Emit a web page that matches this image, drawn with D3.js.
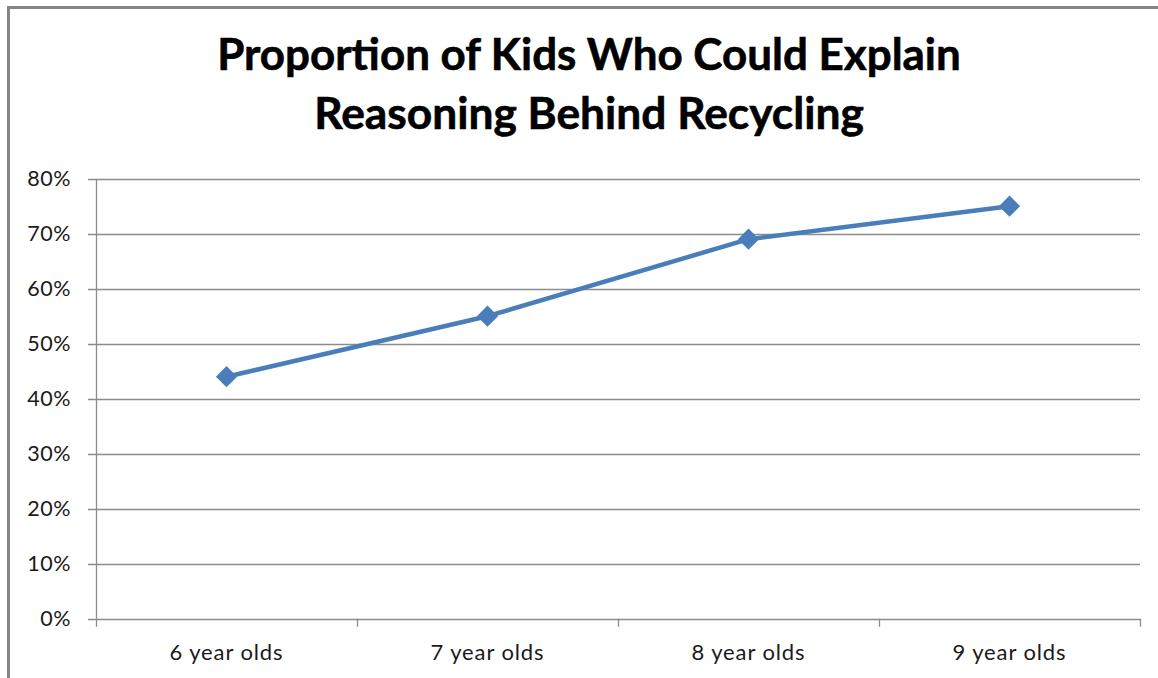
<!DOCTYPE html>
<html>
<head>
<meta charset="utf-8">
<script src="https://cdn.jsdelivr.net/npm/d3@7"></script>
<style>
  html, body { margin: 0; padding: 0; background: #fff; }
  svg { display: block; }
</style>
</head>
<body>
<svg id="chart" width="1158" height="678"></svg>
<script>
const titleLines = ["Proportion of Kids Who Could Explain", "Reasoning Behind Recycling"];
const categories = ["6 year olds", "7 year olds", "8 year olds", "9 year olds"];
const values = [0.44, 0.55, 0.69, 0.75];
const yTicks = [0, 0.1, 0.2, 0.3, 0.4, 0.5, 0.6, 0.7, 0.8];

(function () {
const svg = d3.select("#chart");
const W = 1158, H = 678;
const font = "Lato, 'Open Sans', sans-serif";

// outer border (only top and left visible in reference)
svg.append("line").attr("x1", 8).attr("x2", W).attr("y1", 7.5).attr("y2", 7.5)
  .attr("stroke", "#868686").attr("stroke-width", 3);
svg.append("line").attr("x1", 8.5).attr("x2", 8.5).attr("y1", 6).attr("y2", H)
  .attr("stroke", "#868686").attr("stroke-width", 3);

const pLeft = 96, pRight = 1140, pTop = 178.7, pBottom = 618.7;

const x = d3.scaleBand().domain(categories).range([pLeft, pRight]).paddingInner(0).paddingOuter(0);
const y = d3.scaleLinear().domain([0, 0.8]).range([pBottom, pTop]);

// gridlines
svg.append("g").selectAll("line").data(yTicks).join("line")
  .attr("x1", pLeft - 8).attr("x2", pRight)
  .attr("y1", d => Math.round(y(d)) + 0.5).attr("y2", d => Math.round(y(d)) + 0.5)
  .attr("stroke", "#8c8c8c").attr("stroke-width", 1.3);

// y axis line
svg.append("line").attr("x1", pLeft + 0.5).attr("x2", pLeft + 0.5)
  .attr("y1", pTop).attr("y2", pBottom)
  .attr("stroke", "#8c8c8c").attr("stroke-width", 1.3);

// y tick labels
svg.append("g").selectAll("text").data(yTicks).join("text")
  .attr("x", 71).attr("y", d => y(d))
  .attr("dy", "0.35em")
  .attr("text-anchor", "end")
  .attr("font-family", font).attr("font-size", 21.5)
  .attr("letter-spacing", 0.5)
  .attr("fill", "#1a1a1a")
  .text(d => d3.format(".0%")(d));

// x axis ticks at band edges
const edges = categories.map(c => x(c)).concat([pRight]);
svg.append("g").selectAll("line").data(edges).join("line")
  .attr("x1", d => Math.round(d) + 0.5).attr("x2", d => Math.round(d) + 0.5)
  .attr("y1", pBottom).attr("y2", pBottom + 8)
  .attr("stroke", "#8c8c8c").attr("stroke-width", 1.3);

// category labels
svg.append("g").selectAll("text").data(categories).join("text")
  .attr("x", d => x(d) + x.bandwidth() / 2).attr("y", 660)
  .attr("text-anchor", "middle")
  .attr("font-family", font).attr("font-size", 22)
  .attr("letter-spacing", 0.9)
  .attr("fill", "#1a1a1a")
  .text(d => d);

// line
const line = d3.line()
  .x((d, i) => x(categories[i]) + x.bandwidth() / 2)
  .y(d => y(d));
svg.append("path").datum(values)
  .attr("d", line)
  .attr("fill", "none")
  .attr("stroke", "#4a7ebb")
  .attr("stroke-width", 4.5)
  .attr("stroke-linejoin", "round");

// diamond markers
svg.append("g").selectAll("path").data(values).join("path")
  .attr("transform", (d, i) => `translate(${x(categories[i]) + x.bandwidth() / 2},${y(d)}) rotate(45)`)
  .attr("d", d3.symbol().type(d3.symbolSquare).size(225))
  .attr("fill", "#4a7ebb");

// title
const tg = svg.append("g");
const titleTargets = [{ y: 70, w: 744 }, { y: 129, w: 550 }];
titleLines.forEach((t, i) => {
  const el = tg.append("text")
    .attr("x", 589).attr("y", titleTargets[i].y)
    .attr("text-anchor", "middle")
    .attr("font-family", font).attr("font-weight", "bold")
    .attr("font-size", 40).attr("fill", "#000")
    .attr("stroke", "#000").attr("stroke-width", 0.6)
    .text(t);
  const len = el.node().getComputedTextLength();
  el.attr("font-size", 40 * titleTargets[i].w / len);
});
})();
</script>
</body>
</html>
